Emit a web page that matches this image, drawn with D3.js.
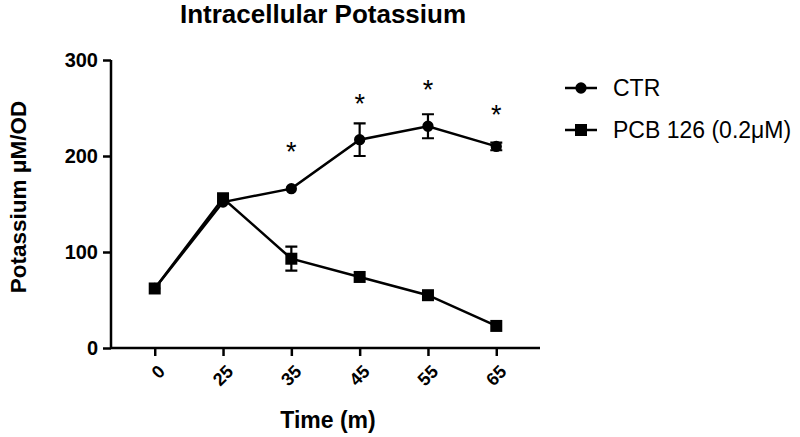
<!DOCTYPE html>
<html>
<head>
<meta charset="utf-8">
<script src="https://cdn.jsdelivr.net/npm/d3@7"></script>
<style>
  body { margin: 0; background: #fff; }
  svg { display: block; font-family: Arial, "Liberation Sans", sans-serif; }
</style>
</head>
<body>
<div id="chart"></div>
<script>
const times = ['0', '25', '35', '45', '55', '65'];
const ctrMean = [62, 152, 166, 217, 231, 210];
const ctrErr = [0, 0, 0, 17, 12.5, 4];
const pcbMean = [62, 156, 93, 74, 55, 23];
const pcbErr = [0, 0, 12.5, 0, 0, 0];
const starTimes = ['35', '45', '55', '65'];
const starLevels = [211, 261, 276, 250];
const yTicks = [0, 100, 200, 300];
const seriesNames = ['CTR', 'PCB 126 (0.2\u03BCM)'];

const width = 800;
const height = 437;

const svg = d3.select('#chart')
  .append('svg')
  .attr('width', width)
  .attr('height', height);

const x = d3.scalePoint()
  .domain(times)
  .range([111, 540])
  .padding(0.64);

const y = d3.scaleLinear()
  .domain([0, 300])
  .range([348, 60]);

// axes
const yAxis = svg.append('g')
  .attr('transform', 'translate(111,0)')
  .call(d3.axisLeft(y).tickValues(yTicks).tickSize(8).tickPadding(5));
yAxis.select('.domain').attr('d', 'M0,' + y(300) + 'V' + y(0));

const xAxis = svg.append('g')
  .attr('transform', 'translate(0,348)')
  .call(d3.axisBottom(x).tickSize(8).tickSizeOuter(0));
xAxis.select('.domain').attr('d', 'M111,0H540');

svg.selectAll('.domain, .tick line')
  .attr('stroke', '#000')
  .attr('stroke-width', 2.5);

yAxis.selectAll('.tick text')
  .attr('font-size', 20)
  .attr('font-weight', 'bold')
  .attr('fill', '#000');

xAxis.selectAll('.tick text')
  .attr('font-size', 18)
  .attr('font-weight', 'bold')
  .attr('fill', '#000')
  .attr('text-anchor', 'end')
  .attr('dy', 0)
  .attr('transform', 'translate(3,17) rotate(-45)');

// lines
const line = d3.line()
  .x((d, i) => x(times[i]))
  .y((d) => y(d));

const drawSeries = (mean, err, shape) => {
  const g = svg.append('g');
  g.append('path')
    .datum(mean)
    .attr('d', line)
    .attr('fill', 'none')
    .attr('stroke', '#000')
    .attr('stroke-width', 2.5);

  const bars = mean.map((m, i) => ({ t: times[i], m: m, e: err[i] }))
    .filter((d) => d.e > 0);
  g.selectAll('.err')
    .data(bars)
    .enter()
    .append('path')
    .attr('d', (d) => {
      const cx = x(d.t);
      const top = y(d.m + d.e);
      const bot = y(d.m - d.e);
      return 'M' + cx + ',' + top + 'V' + bot +
        'M' + (cx - 6) + ',' + top + 'H' + (cx + 6) +
        'M' + (cx - 6) + ',' + bot + 'H' + (cx + 6);
    })
    .attr('fill', 'none')
    .attr('stroke', '#000')
    .attr('stroke-width', 2.2);

  g.selectAll('.mark')
    .data(mean)
    .enter()
    .append('path')
    .attr('transform', (d, i) => 'translate(' + x(times[i]) + ',' + y(d) + ')')
    .attr('d', d3.symbol().type(shape).size(shape === d3.symbolSquare ? 144 : 100))
    .attr('fill', '#000');
};

drawSeries(ctrMean, ctrErr, d3.symbolCircle);
drawSeries(pcbMean, pcbErr, d3.symbolSquare);

// significance stars
svg.selectAll('.star')
  .data(starTimes)
  .enter()
  .append('text')
  .attr('x', (d) => x(d))
  .attr('y', (d, i) => y(starLevels[i]) + 16)
  .attr('text-anchor', 'middle')
  .attr('font-size', 27)
  .attr('fill', '#000')
  .text('*');

// titles
svg.append('text')
  .attr('x', 323)
  .attr('y', 23)
  .attr('text-anchor', 'middle')
  .attr('font-size', 26)
  .attr('font-weight', 'bold')
  .attr('fill', '#000')
  .text('Intracellular Potassium');

svg.append('text')
  .attr('transform', 'translate(26,197) rotate(-90)')
  .attr('text-anchor', 'middle')
  .attr('font-size', 22.5)
  .attr('font-weight', 'bold')
  .attr('fill', '#000')
  .text('Potassium \u03BCM/OD');

svg.append('text')
  .attr('x', 328)
  .attr('y', 428)
  .attr('text-anchor', 'middle')
  .attr('font-size', 23)
  .attr('font-weight', 'bold')
  .attr('fill', '#000')
  .text('Time (m)');

// legend
const legend = svg.append('g');
const legendRows = legend.selectAll('g')
  .data(seriesNames)
  .enter()
  .append('g')
  .attr('transform', (d, i) => 'translate(565,' + (88 + i * 42) + ')');
legendRows.append('path')
  .attr('d', 'M0,0H32')
  .attr('stroke', '#000')
  .attr('stroke-width', 2.5);
legendRows.append('path')
  .attr('transform', 'translate(16,0)')
  .attr('d', (d, i) => d3.symbol()
    .type(i === 0 ? d3.symbolCircle : d3.symbolSquare)
    .size(i === 0 ? 100 : 144)())
  .attr('fill', '#000');
legendRows.append('text')
  .attr('x', 48)
  .attr('y', 8)
  .attr('font-size', 23)
  .attr('fill', '#000')
  .text((d) => d);
</script>
</body>
</html>
